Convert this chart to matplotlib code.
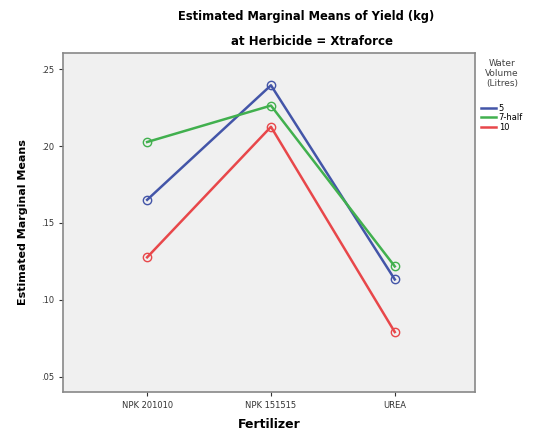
import matplotlib.pyplot as plt
from matplotlib.ticker import FuncFormatter

fertilizers = ["NPK 201010", "NPK 151515", "UREA"]
volumes = ["5", "7-half", "10"]
means_5 = [0.165, 0.2395, 0.1132]
means_7half = [0.2026, 0.2263, 0.1217]
means_10 = [0.1276, 0.2125, 0.0790]
series = [means_5, means_7half, means_10]
colors = ["#4355A8", "#41B04E", "#E8474A"]

fig = plt.figure(figsize=(5.52, 4.38), dpi=100)
ax = fig.add_axes([0.114, 0.105, 0.747, 0.774])
ax.set_facecolor("#F0F0F0")

x = list(range(len(fertilizers)))
for vals, lab, c in zip(series, volumes, colors):
    ax.plot(x, vals, color=c, linewidth=1.8, marker="o", markersize=6,
            markerfacecolor="none", markeredgecolor=c, markeredgewidth=1.0, label=lab)

ax.set_xlim(-0.68, 2.65)
ax.set_ylim(0.040, 0.2605)
ax.set_yticks([0.05, 0.10, 0.15, 0.20, 0.25])
ax.yaxis.set_major_formatter(FuncFormatter(lambda v, p: f"{v:.2f}".lstrip("0")))
ax.set_xticks(x)
ax.set_xticklabels(fertilizers)
ax.tick_params(labelsize=6, colors="#333333", length=3, width=0.8)
for s in ax.spines.values():
    s.set_color("#888888")
    s.set_linewidth(1.2)

ax.set_xlabel("Fertilizer", fontsize=9, fontweight="bold", labelpad=6)
ax.set_ylabel("Estimated Marginal Means", fontsize=8, fontweight="bold", labelpad=9)

fig.text(0.555, 0.962, "Estimated Marginal Means of Yield (kg)", ha="center", va="center",
         fontsize=8.3, fontweight="bold")
fig.text(0.565, 0.905, "at Herbicide = Xtraforce", ha="center", va="center",
         fontsize=8.5, fontweight="bold")

# legend title drawn separately to leave the gap seen in the original
fig.text(0.909, 0.832, "Water\nVolume\n(Litres)", ha="center", va="center",
         fontsize=6.5, color="#444444", multialignment="center", linespacing=1.1)
leg = ax.legend(loc="upper left", bbox_to_anchor=(1.0, 0.868),
                frameon=False, fontsize=6, handlelength=1.8,
                handletextpad=0.3, labelspacing=0.08, borderaxespad=0.3)
for h in leg.legend_handles:
    h.set_marker("")

fig.savefig("out.png", dpi=100, facecolor="white")
